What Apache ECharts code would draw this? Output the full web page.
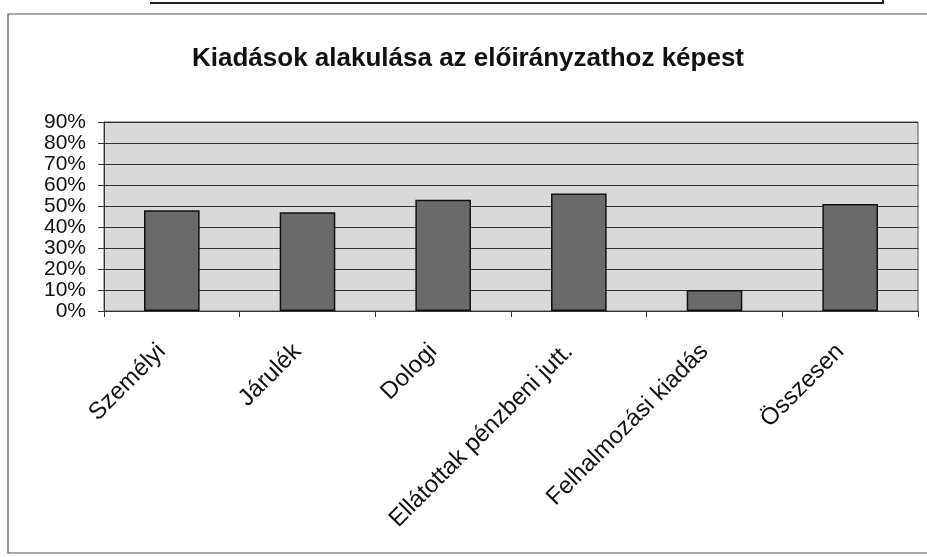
<!DOCTYPE html>
<html>
<head>
<meta charset="utf-8">
<script src="https://cdn.jsdelivr.net/npm/echarts@6/dist/echarts.min.js"></script>
<style>
html,body{margin:0;padding:0;background:#fff;}
#chart{width:927px;height:557px;}
</style>
</head>
<body>
<div id="chart"></div>
<script>
const categories = ['Személyi', 'Járulék', 'Dologi', 'Ellátottak pénzbeni jutt.', 'Felhalmozási kiadás', 'Összesen'];
const values = [48, 47, 53, 56, 10, 51];
const titleText = 'Kiadások alakulása az előirányzathoz képest';

const chart = echarts.init(document.getElementById('chart'), null, {renderer: 'canvas'});
chart.setOption({
  backgroundColor: '#ffffff',
  animation: false,
  title: {
    text: titleText,
    left: 463,
    textAlign: 'center',
    top: 41,
    textStyle: {fontFamily: 'Liberation Sans, Arial, sans-serif', fontSize: 26, fontWeight: 'bold', color: '#111'}
  },
  graphic: [
    {type: 'rect', shape: {x: 8, y: 14, width: 940, height: 539}, style: {fill: 'none', stroke: '#555', lineWidth: 1.2}, silent: true, z: -1},
    {type: 'polyline', shape: {points: [[150, 3], [883, 3], [883, 0]]}, style: {fill: 'none', stroke: '#222', lineWidth: 2}, silent: true}
  ],
  grid: {left: 104, right: 9, top: 122, bottom: 246, show: true, backgroundColor: '#d9d9d9', borderColor: '#555', borderWidth: 1},
  xAxis: {
    type: 'category',
    data: categories,
    axisLine: {lineStyle: {color: '#333', width: 1}},
    axisTick: {show: true, length: 6, lineStyle: {color: '#333'}},
    axisLabel: {rotate: 45, margin: 27, interval: 0, padding: [0, 14, 0, 0], fontFamily: 'Liberation Sans, Arial, sans-serif', fontSize: 24, color: '#111'}
  },
  yAxis: {
    type: 'value',
    min: 0, max: 90, interval: 10,
    axisLine: {show: true, lineStyle: {color: '#333'}},
    axisTick: {show: true, length: 6, lineStyle: {color: '#333'}},
    splitLine: {show: true, lineStyle: {color: '#333', width: 1}},
    axisLabel: {formatter: '{value}%', margin: 18, showMinLabel: true, showMaxLabel: true, fontFamily: 'Liberation Sans, Arial, sans-serif', fontSize: 21, color: '#111'}
  },
  series: [{
    type: 'bar',
    data: values,
    barWidth: '41%',
    itemStyle: {color: '#6a6a6a', borderColor: '#111', borderWidth: 1.5}
  }]
});
</script>
</body>
</html>
